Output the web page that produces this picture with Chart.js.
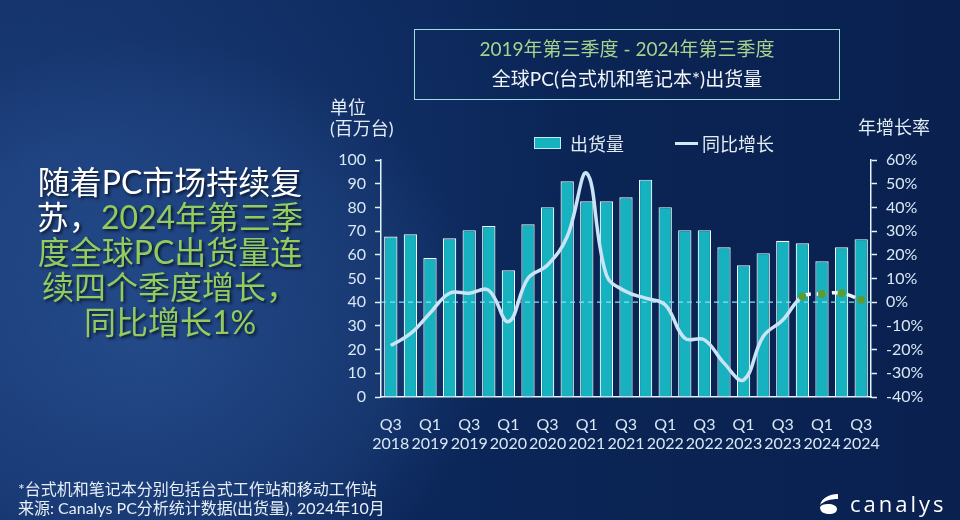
<!DOCTYPE html>
<html>
<head>
<meta charset="utf-8">
<script src="https://cdn.jsdelivr.net/npm/chart.js@4.4.1/dist/chart.umd.min.js"></script>
<style>
html,body{margin:0;padding:0;}
body{width:960px;height:520px;overflow:hidden;position:relative;
  font-family:Lato,"Noto Sans CJK SC",sans-serif;
  background:
    radial-gradient(ellipse 340px 300px at 150px 340px, rgba(48,92,160,0.55), rgba(48,92,160,0.25) 70%, rgba(48,92,160,0) 100%),
    radial-gradient(ellipse 520px 420px at 60px 170px, rgba(40,80,145,0.45), rgba(40,80,145,0) 100%),
    linear-gradient(90deg,#0f2b62 0%,#0b2659 45%,#0a2352 75%,#0a2150 100%);}
#c{position:absolute;left:0;top:0;}
.abs{position:absolute;white-space:nowrap;}
#lead{left:20px;top:164px;width:300px;text-align:center;font-size:32px;line-height:35px;color:#ffffff;
  font-family:Lato,"Noto Sans CJK SC",sans-serif;text-shadow:2px 2px 3px rgba(0,0,0,0.65);}
#lead .g{color:#93cc5e;}
#titlebox{left:414px;top:29px;width:426px;height:71px;box-sizing:border-box;border:1.5px solid #9fdcd8;
  text-align:center;font-size:19px;line-height:30px;padding-top:4px;color:#f2f6fa;font-family:Lato,"Noto Sans CJK SC",sans-serif;}
#titlebox .g{color:#a9d38c;}
.axt{font-size:18px;line-height:21px;color:#e3edf6;font-family:Lato,"Noto Sans CJK SC",sans-serif;}
.leg{font-size:18px;line-height:20px;color:#e3edf6;font-family:"Noto Sans CJK SC",sans-serif;}
#foot{left:18px;top:479px;font-size:16px;line-height:19px;color:#e6eef6;font-family:Lato,"Noto Sans CJK SC",sans-serif;}
#logo{left:850px;top:488px;font-size:22px;letter-spacing:3px;color:#ffffff;font-family:"Open Sans",sans-serif;line-height:30px;}
</style>
</head>
<body>
<canvas id="c" width="960" height="520"></canvas>

<div class="abs" id="lead">随着PC市场持续复<br>苏，<span class="g">2024年第三季</span><br><span class="g">度全球PC出货量连</span><br><span class="g">续四个季度增长，</span><br><span class="g">同比增长1%</span></div>

<div class="abs" id="titlebox"><span class="g">2019年第三季度 - 2024年第三季度</span><br>全球PC(台式机和笔记本*)出货量</div>

<div class="abs axt" style="left:330px;top:97px;">单位<br>(百万台)</div>
<div class="abs axt" style="left:858px;top:117px;">年增长率</div>

<div class="abs" style="left:534px;top:137px;width:27px;height:12px;box-sizing:border-box;border:1px solid #bfeef2;background:#17b2bf;"></div>
<div class="abs leg" style="left:570px;top:133px;">出货量</div>
<div class="abs" style="left:675px;top:142px;width:23px;height:3px;background:#d2eaf8;"></div>
<div class="abs leg" style="left:702px;top:133px;">同比增长</div>

<div class="abs" id="foot">*台式机和笔记本分别包括台式工作站和移动工作站<br>来源: Canalys PC分析统计数据(出货量), 2024年10月</div>

<svg class="abs" style="left:818px;top:493px;" width="24" height="22" viewBox="0 0 24 22">
  <path d="M20 1 C11 1 4 5 2 12 C6 8 12 6 20 6 Z" fill="#ffffff"/>
  <path d="M2 14 C2 19 6 21 11 21 C16 21 19 19 19 16 C19 13 15 11 10 11 C6 11 3 12 2 14 Z" fill="#ffffff"/>
</svg>
<div class="abs" id="logo">canalys</div>

<script>
// ---- data ----
const quarters = ['Q3 2018','Q4 2018','Q1 2019','Q2 2019','Q3 2019','Q4 2019','Q1 2020','Q2 2020','Q3 2020','Q4 2020',
                  'Q1 2021','Q2 2021','Q3 2021','Q4 2021','Q1 2022','Q2 2022','Q3 2022','Q4 2022','Q1 2023','Q2 2023',
                  'Q3 2023','Q4 2023','Q1 2024','Q2 2024','Q3 2024'];
const shipments = [67.7, 68.7, 58.6, 67.0, 70.4, 72.1, 53.5, 72.9, 80.1, 91.0,
                   82.6, 82.6, 84.3, 91.7, 80.1, 70.4, 70.4, 63.2, 55.6, 60.7,
                   65.9, 64.9, 57.3, 63.2, 66.6];
const growth = [-18.3, -13.3, -4.6, 3.8, 3.8, 5.0, -8.2, 10.1, 15.7, 27.7,
                54.4, 11.5, 4.5, 1.7, -1.1, -15.2, -15.9, -25.7, -32.8, -14.5,
                -7.5, 2.4, 3.5, 3.8, 1.0];
const leftAxis = {min: 0, max: 100, step: 10};
const rightAxis = {min: -40, max: 60, step: 10};
const dashedFrom = 21; // Q4 2023 onward drawn dashed with markers

const axisColor = '#e4f3f8';
const tickColor = '#d9e8f5';
const teal = '#17b2bf';
const tickFont = {family: 'Lato, "Noto Sans CJK SC", sans-serif', size: 16};

const zeroLine = {
  id: 'zeroLine',
  afterDatasetDraw(chart, args) {
    if (args.index !== 1) return;
    const s = chart.scales.y1;
    const y = s.getPixelForValue(0);
    const {left, right} = chart.chartArea;
    const ctx = chart.ctx;
    ctx.save();
    ctx.setLineDash([5, 4]);
    ctx.strokeStyle = '#7fe3f2';
    ctx.lineWidth = 1.2;
    ctx.beginPath();
    ctx.moveTo(left, y);
    ctx.lineTo(right, y);
    ctx.stroke();
    ctx.restore();
  }
};

new Chart(document.getElementById('c'), {
  type: 'bar',
  data: {
    labels: quarters,
    datasets: [
      {
        type: 'line', label: '同比增长', data: growth, yAxisID: 'y1', order: 1,
        borderColor: '#c8e4f6', borderWidth: 3.5, tension: 0.4, fill: false,
        pointRadius: ctx => ctx.dataIndex >= dashedFrom ? 4 : 0,
        pointBackgroundColor: '#5c9b33', pointBorderColor: '#5c9b33', pointBorderWidth: 0,
        segment: {
          borderDash: ctx => ctx.p0DataIndex >= dashedFrom ? [9, 6] : undefined,
          borderColor: ctx => ctx.p0DataIndex >= dashedFrom ? '#eef4fa' : undefined
        }
      },
      {
        type: 'bar', label: '出货量', data: shipments, yAxisID: 'y', order: 2,
        backgroundColor: teal, borderColor: '#eefbff', borderWidth: 1.2,
        barPercentage: 0.68, categoryPercentage: 1
      }
    ]
  },
  options: {
    responsive: false,
    animation: false,
    layout: {padding: {left: 321, right: 29, top: 160, bottom: 63}},
    plugins: {legend: {display: false}, tooltip: {enabled: false}},
    scales: {
      x: {
        grid: {display: false, drawTicks: false},
        border: {color: axisColor, width: 1.5},
        ticks: {
          autoSkip: false, maxRotation: 0, minRotation: 0, padding: 18, color: tickColor, font: tickFont,
          callback: (v, i) => i % 2 === 0 ? quarters[i].split(' ') : ''
        },
        afterFit: s => { s.height = 60; }
      },
      y: {
        position: 'left', min: leftAxis.min, max: leftAxis.max,
        ticks: {stepSize: leftAxis.step, padding: 9, color: tickColor, font: tickFont},
        grid: {drawOnChartArea: false, tickLength: 6, tickColor: axisColor, tickWidth: 1.5},
        border: {color: axisColor, width: 1.5},
        afterFit: s => { s.width = 60; }
      },
      y1: {
        position: 'right', min: rightAxis.min, max: rightAxis.max,
        ticks: {stepSize: rightAxis.step, padding: 9, color: tickColor, font: tickFont, callback: v => v + '%'},
        grid: {drawOnChartArea: false, tickLength: 6, tickColor: axisColor, tickWidth: 1.5},
        border: {color: axisColor, width: 1.5},
        afterFit: s => { s.width = 60; }
      }
    }
  },
  plugins: [zeroLine]
});
</script>
</body>
</html>
